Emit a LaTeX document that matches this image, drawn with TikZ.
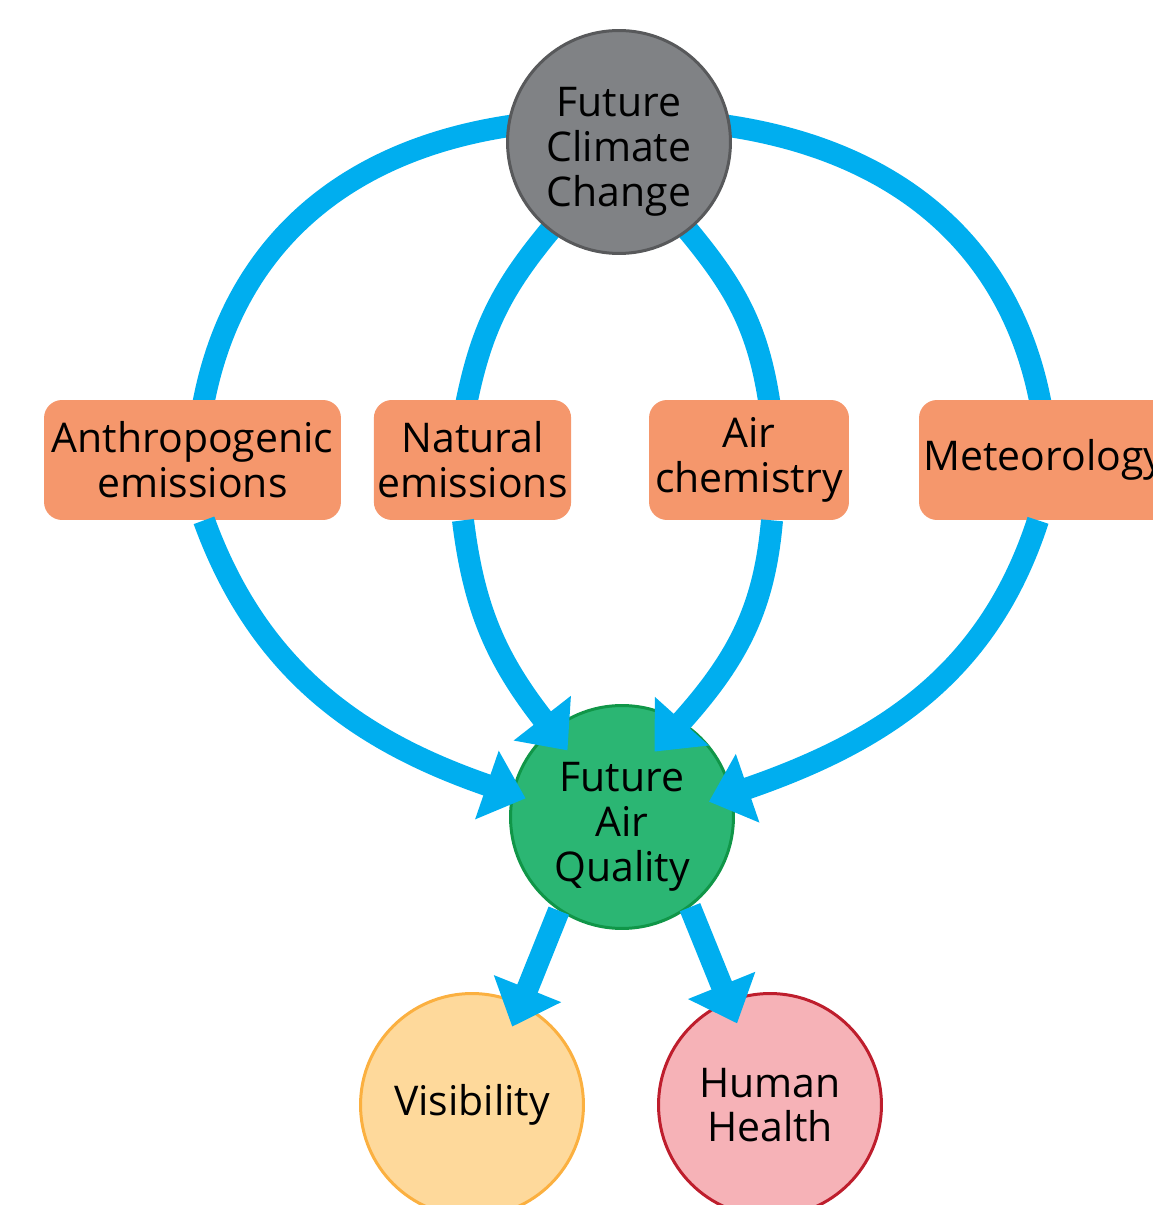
\documentclass[tikz,border=0pt]{standalone}
\usepackage{fontspec}
\setmainfont{Open Sans}
\usepackage{tikz}
\usetikzlibrary{arrows.meta,backgrounds}
\definecolor{flowblue}{RGB}{0,174,239}
\definecolor{factorfill}{RGB}{245,151,108}
\definecolor{climfill}{RGB}{128,130,133}
\definecolor{climline}{RGB}{88,89,91}
\definecolor{airfill}{RGB}{43,182,115}
\definecolor{airline}{RGB}{16,150,72}
\definecolor{visfill}{RGB}{254,217,155}
\definecolor{visline}{RGB}{251,176,64}
\definecolor{healthfill}{RGB}{246,178,183}
\definecolor{healthline}{RGB}{190,30,45}
\tikzset{
  bubble/.style 2 args={circle, draw=#1, fill=#2, line width=0.06cm, minimum size=4.46cm, inner sep=0pt, align=center},
  factor/.style={rounded corners=0.36cm, fill=factorfill, minimum height=2.4cm, inner sep=2pt, align=center},
  link/.style={line width=0.44cm, draw=flowblue},
  flow/.style={link, -{Triangle[length=0.82cm, width=1.4cm]}},
}

\begin{document}
\begin{tikzpicture}[x=0.02cm, y=0.02cm, font=\fontsize{23.3}{25.5}\selectfont]
  \useasboundingbox (0,0) rectangle (1153,1205);

  % drivers and outcomes
  \node[bubble={climline}{climfill}, text height=79pt] (climate) at (619,1063) {Future\\Climate\\Change};
  \node[factor, minimum width=5.94cm] (anthro) at (192.5,745) {Anthropogenic\\emissions};
  \node[factor, minimum width=3.9cm] (natural) at (472.5,745) {Natural\\emissions};
  \node[factor, minimum width=4cm] (chem) at (749,745) {Air\\chemistry};
  \node[factor, minimum width=5cm] (meteo) at (1044,745) {Meteorology};
  \node[bubble={airline}{airfill}, text height=79pt] (quality) at (622,388) {Future\\Air\\Quality};
  \node[bubble={visline}{visfill}] (vis) at (472,100) {Visibility};
  \node[bubble={healthline}{healthfill}] (health) at (770,100) {Human\\Health};

  % climate -> factors, hidden under the nodes
  \begin{scope}[on background layer, shorten <=-0.16cm, shorten >=-0.2cm]
    \draw[link] (climate.172) to[out=188, in=80] ([xshift=0.23cm]anthro.north);
    \draw[link] (climate.232) to[out=230, in=79] ([xshift=-0.11cm]natural.north);
    \draw[link] (climate.308) to[out=-50, in=98] ([xshift=0.4cm]chem.north);
    \draw[link] (climate.8) to[out=-8, in=100] ([xshift=-0.08cm]meteo.north);
  \end{scope}

  % factors -> air quality
  \draw[flow, shorten >=-0.3cm] ([xshift=0.23cm]anthro.south) to[out=-70, in=161] (quality.168);
  \draw[flow, shorten >=-0.54cm] ([xshift=-0.19cm]natural.south) to[out=-83, in=128] (quality.129);
  \draw[flow, shorten >=-0.82cm] ([xshift=0.46cm]chem.south) to[out=-95, in=48] (quality.58);
  \draw[flow, shorten >=-0.5cm] ([xshift=-0.12cm]meteo.south) to[out=-108, in=19] (quality.12);

  % air quality -> impacts
  \draw[flow, shorten >=-0.5cm] (quality.236) -- (vis.64);
  \draw[flow, shorten >=-0.5cm] (quality.307) -- (health.112);
\end{tikzpicture}
\end{document}
